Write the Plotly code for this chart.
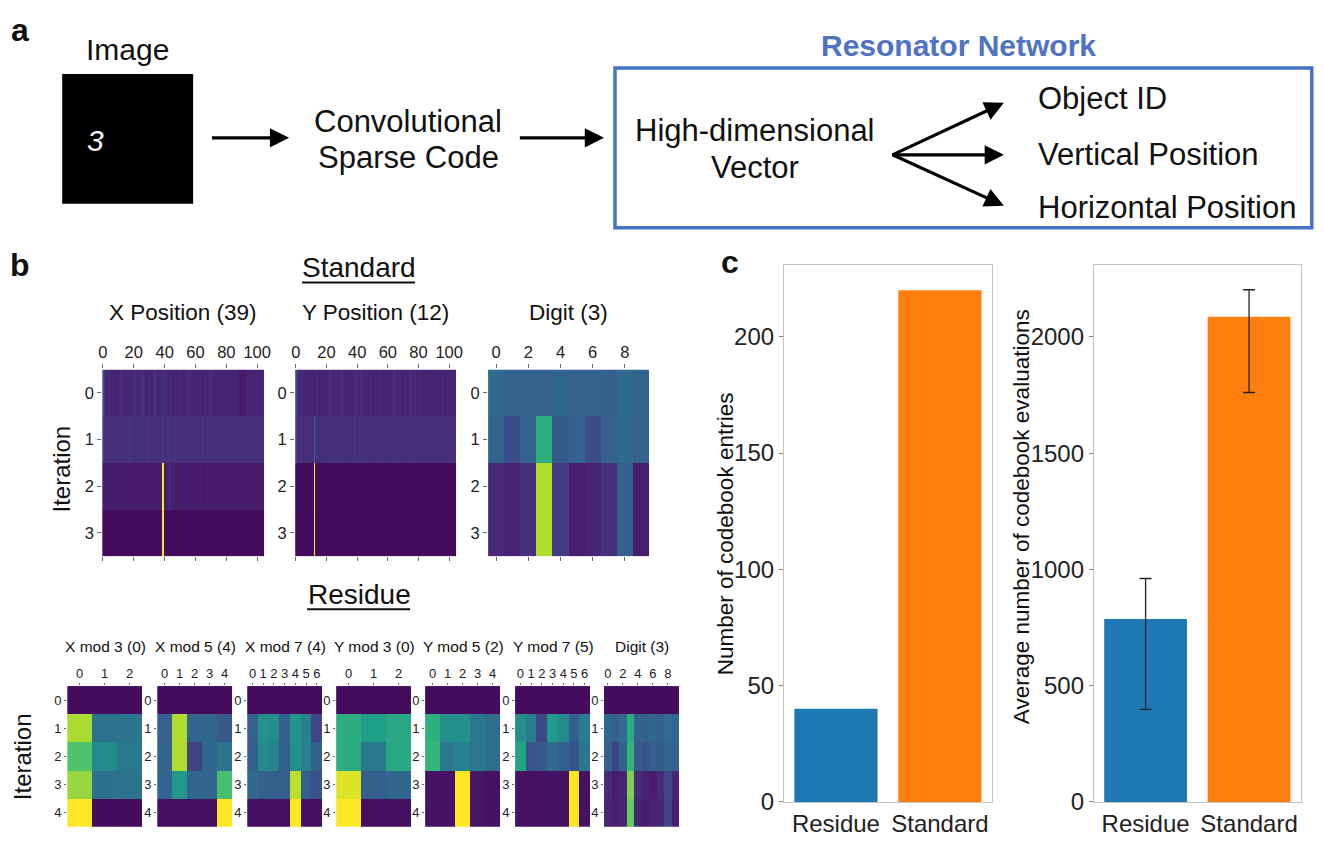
import plotly.graph_objects as go

W, H = 1324, 847
FONT = "Liberation Sans, Arial, Helvetica, sans-serif"
# small placement correction measured from earlier renders
SX, AX = 0.992, 4.8
SY, AY = 0.986, 0.0

# ---------------- data ----------------
std_titles = ["X Position (39)", "Y Position (12)", "Digit (3)"]

x_pos_row0 = [26, 15, 11, 10, 11, 10, 10, 11, 10, 10,
              11, 12, 14, 11, 10, 10, 12, 11, 10, 10,
              13, 11, 10, 10, 11, 10, 14, 11, 10, 10,
              11, 10, 10, 14, 15, 11, 10, 10, 14, 12,
              16, 11, 10, 10, 11, 10, 10, 11, 10, 10,
              11, 10, 10, 11, 10, 14, 13, 11, 10, 10,
              11, 10, 10, 11, 10, 10, 11, 10, 10, 12,
              13, 11, 10, 10, 11, 10, 10, 11, 10, 10,
              11, 10, 10, 11, 10, 10, 11, 10, 7, 7,
              7, 7, 7, 10, 11, 10, 10, 11, 10, 10,
              11, 10, 10, 10, 11]
x_pos_row1 = [20, 14, 13, 14, 14, 13, 14, 14, 13, 14,
              15, 14, 13, 14, 14, 13, 14, 16, 13, 14,
              14, 13, 14, 17, 13, 14, 14, 13, 14, 16,
              14, 13, 14, 14, 17, 13, 14, 14, 13, 17,
              14, 13, 16, 14, 13, 14, 14, 15, 13, 14,
              14, 13, 14, 14, 13, 14, 16, 13, 14, 14,
              13, 14, 14, 13, 14, 15, 13, 14, 14, 13,
              14, 14, 13, 14, 15, 13, 14, 14, 13, 14,
              16, 13, 14, 14, 13, 14, 14, 13, 14, 15,
              13, 14, 14, 13, 14, 14, 13, 14, 14, 13,
              14, 14, 13, 14, 14]
x_pos_row2 = [8, 7, 8, 7, 7, 8, 7, 8, 7, 7,
              8, 7, 7, 8, 7, 8, 7, 7, 8, 7,
              7, 8, 7, 7, 8, 7, 8, 7, 7, 8,
              7, 8, 7, 7, 8, 7, 7, 9, 8, 100,
              10, 8, 9, 12, 9, 8, 10, 7, 8, 7,
              7, 8, 7, 7, 8, 7, 8, 7, 7, 8,
              7, 8, 7, 9, 8, 7, 7, 8, 7, 7,
              8, 7, 7, 8, 7, 8, 7, 7, 8, 7,
              7, 8, 7, 7, 8, 7, 8, 7, 7, 8,
              7, 8, 7, 7, 8, 7, 8, 7, 7, 8,
              7, 8, 7, 7, 8]
x_pos_row3 = [3, 3, 4, 3, 3, 3, 4, 3, 3, 3,
              3, 4, 3, 3, 3, 3, 4, 3, 3, 3,
              3, 3, 4, 3, 3, 3, 3, 4, 3, 3,
              3, 3, 3, 4, 3, 3, 3, 3, 4, 100,
              3, 3, 3, 3, 4, 3, 3, 3, 3, 4,
              3, 3, 3, 3, 3, 4, 3, 3, 3, 3,
              4, 3, 3, 3, 3, 3, 4, 3, 3, 3,
              3, 4, 3, 3, 3, 3, 3, 4, 3, 3,
              3, 3, 4, 3, 3, 3, 3, 3, 4, 3,
              3, 3, 3, 4, 3, 3, 3, 3, 3, 4,
              3, 3, 3, 3, 3]

y_pos_row0 = [24, 14, 11, 10, 11, 10, 10, 11, 10, 10,
              11, 10, 10, 11, 14, 10, 10, 11, 10, 10,
              11, 10, 15, 11, 10, 10, 11, 10, 10, 11,
              14, 10, 10, 11, 10, 10, 11, 10, 10, 15,
              11, 10, 14, 11, 10, 10, 11, 10, 10, 11,
              10, 10, 11, 10, 13, 11, 10, 10, 11, 10,
              10, 11, 10, 10, 13, 11, 10, 10, 11, 10,
              10, 11, 10, 10, 11, 13, 10, 10, 11, 10,
              10, 11, 10, 10, 11, 10, 10, 11, 10, 10,
              11, 10, 10, 11, 10, 13, 11, 10, 10, 11,
              10, 10, 11, 10, 10]
y_pos_row1 = [18, 14, 13, 14, 14, 13, 14, 14, 13, 14,
              14, 13, 30, 14, 16, 13, 14, 14, 13, 14,
              14, 13, 17, 14, 13, 14, 14, 13, 14, 14,
              16, 13, 14, 14, 13, 14, 14, 13, 14, 17,
              13, 14, 16, 13, 14, 14, 13, 14, 14, 13,
              14, 14, 13, 14, 16, 13, 14, 14, 13, 14,
              14, 13, 14, 14, 15, 13, 14, 14, 13, 14,
              14, 13, 14, 14, 13, 15, 14, 13, 14, 14,
              13, 14, 14, 13, 14, 14, 13, 14, 14, 13,
              14, 14, 13, 14, 14, 15, 13, 14, 14, 13,
              14, 14, 13, 14, 14]
y_pos_row2 = [4, 3, 3, 4, 3, 3, 3, 4, 3, 3,
              3, 4, 100, 3, 3, 3, 4, 3, 3, 3,
              3, 4, 3, 3, 3, 3, 4, 3, 3, 3,
              3, 3, 4, 3, 3, 3, 3, 4, 3, 3,
              3, 3, 3, 4, 3, 3, 3, 3, 4, 3,
              3, 3, 3, 3, 4, 3, 3, 3, 3, 3,
              4, 3, 3, 3, 3, 3, 4, 3, 3, 3,
              3, 4, 3, 3, 3, 3, 3, 4, 3, 3,
              3, 3, 4, 3, 3, 3, 3, 3, 4, 3,
              3, 3, 3, 4, 3, 3, 3, 3, 3, 4,
              3, 3, 3, 3, 3]
y_pos_row3 = [3, 3, 3, 3, 4, 3, 3, 3, 3, 3,
              4, 3, 100, 3, 3, 3, 3, 4, 3, 3,
              3, 3, 3, 4, 3, 3, 3, 3, 3, 4,
              3, 3, 3, 3, 3, 4, 3, 3, 3, 3,
              3, 4, 3, 3, 3, 3, 3, 4, 3, 3,
              3, 3, 3, 4, 3, 3, 3, 3, 3, 4,
              3, 3, 3, 3, 3, 4, 3, 3, 3, 3,
              3, 4, 3, 3, 3, 3, 3, 4, 3, 3,
              3, 3, 3, 4, 3, 3, 3, 3, 3, 4,
              3, 3, 3, 3, 3, 4, 3, 3, 3, 3,
              3, 4, 3, 3, 3]

digit_std = [[34, 31, 32, 31, 33, 31, 32, 30, 34, 32],
             [32, 24, 31, 63, 29, 31, 24, 31, 34, 31],
             [12, 10, 14, 88, 18, 8, 10, 14, 30, 8],
             [12, 10, 14, 88, 18, 8, 10, 14, 30, 8]]

x_pos_std = [x_pos_row0, x_pos_row1, x_pos_row2, x_pos_row3]
y_pos_std = [y_pos_row0, y_pos_row1, y_pos_row2, y_pos_row3]
std_ticks = [[0, 20, 40, 60, 80, 100], [0, 20, 40, 60, 80, 100], [0, 2, 4, 6, 8]]

res_titles = ["X mod 3 (0)", "X mod 5 (4)", "X mod 7 (4)", "Y mod 3 (0)",
              "Y mod 5 (2)", "Y mod 7 (5)", "Digit (3)"]
x_mod3 = [[3, 3, 3], [87, 38, 39], [72, 48, 40], [84, 37, 38], [100, 3, 3]]
x_mod5 = [[3, 3, 3, 3, 3], [31, 88, 33, 33, 28], [32, 88, 20, 33, 38],
          [32, 53, 33, 33, 70], [4, 4, 4, 4, 100]]
x_mod7 = [[3, 3, 3, 3, 3, 3, 3], [31, 50, 49, 30, 52, 45, 22],
          [30, 48, 45, 30, 50, 45, 30], [34, 30, 30, 30, 90, 30, 25],
          [4, 4, 4, 4, 100, 4, 4]]
y_mod3 = [[3, 3, 3], [62, 56, 60], [62, 40, 60], [95, 30, 33], [100, 4, 4]]
y_mod5 = [[3, 3, 3, 3, 3], [63, 50, 50, 40, 35], [66, 40, 45, 40, 35],
          [5, 5, 100, 6, 5], [5, 5, 100, 6, 5]]
y_mod7 = [[3, 3, 3, 3, 3, 3, 3], [50, 42, 22, 54, 48, 30, 42],
          [58, 26, 28, 35, 30, 27, 40], [5, 5, 5, 5, 5, 100, 5],
          [5, 5, 5, 5, 5, 100, 5]]
digit_res = [[3, 3, 3, 3, 3, 3, 3, 3, 3, 3],
             [33, 30, 35, 62, 32, 30, 33, 30, 35, 33],
             [30, 20, 32, 66, 28, 25, 30, 28, 33, 30],
             [12, 8, 10, 80, 12, 10, 8, 12, 22, 10],
             [10, 8, 10, 76, 10, 8, 10, 10, 20, 8]]
res_data = [x_mod3, x_mod5, x_mod7, y_mod3, y_mod5, y_mod7, digit_res]
res_ticks = [[0, 1, 2], [0, 1, 2, 3, 4], [0, 1, 2, 3, 4, 5, 6], [0, 1, 2],
             [0, 1, 2, 3, 4], [0, 1, 2, 3, 4, 5, 6], [0, 2, 4, 6, 8]]

bar_categories = ["Residue", "Standard"]
bar_colors = ["#1f77b4", "#ff7f0e"]
codebook_entries = [40, 220]
avg_evals = [787, 2087]
evals_err_plus = [174, 116]
evals_err_minus = [389, 326]


# ---------------- helpers (reference pixel -> paper fraction) ----------------
def fx(p):
    return ((p - AX) / SX) / W


def fy(p):
    return 1 - ((p - AY) / SY) / H


fig = go.Figure()
layout = {}
annotations = []
shapes = []
n_ax = [0]


def add_text(text, x, y, size, color="#111", bold=False, xanchor="center", angle=0, italic=False):
    t = text
    if bold:
        t = "<b>" + t + "</b>"
    if italic:
        t = "<i>" + t + "</i>"
    annotations.append(dict(text=t, x=fx(x), y=fy(y), xref="paper", yref="paper",
                            showarrow=False, xanchor=xanchor, yanchor="middle",
                            textangle=angle, font=dict(size=size, color=color, family=FONT)))


def add_arrow(x0, y0, x1, y1):
    annotations.append(dict(text="", x=fx(x1), y=fy(y1), xref="paper", yref="paper",
                            ax=(x0 - x1) / SX, ay=(y0 - y1) / SY, axref="pixel", ayref="pixel",
                            showarrow=True, arrowhead=2, arrowsize=1.2, arrowwidth=3.2,
                            arrowcolor="#000"))


def add_heatmap(z, x0, x1, y0, y1, xr, tickvals, xfont, yfont, ticklen, mirror_x):
    n_ax[0] += 1
    s = "" if n_ax[0] == 1 else str(n_ax[0])
    fig.add_trace(go.Heatmap(z=z, x=list(range(len(z[0]))), y=list(range(len(z))),
                             colorscale="Viridis", zmin=0, zmax=100, showscale=False,
                             zsmooth=False, xaxis="x" + s, yaxis="y" + s, hoverinfo="skip"))
    layout["xaxis" + s] = dict(domain=[fx(x0), fx(x1)], anchor="y" + s, side="top", range=xr,
                               tickvals=tickvals, ticks="outside", ticklen=ticklen,
                               tickcolor="#666", tickwidth=1,
                               mirror="ticks" if mirror_x else False,
                               tickfont=dict(size=xfont, color="#222", family=FONT),
                               showgrid=False, zeroline=False, showline=False, fixedrange=True)
    layout["yaxis" + s] = dict(domain=[fy(y1), fy(y0)], anchor="x" + s,
                               range=[len(z) - 0.5, -0.5], tickvals=list(range(len(z))),
                               ticks="outside", ticklen=ticklen, tickcolor="#666", tickwidth=1,
                               tickfont=dict(size=yfont, color="#222", family=FONT),
                               showgrid=False, zeroline=False, showline=False, fixedrange=True)


# ---------------- panel a ----------------
add_text("a", 21, 30, 32, bold=True)
add_text("Image", 128, 50, 30)
shapes.append(dict(type="rect", xref="paper", yref="paper", x0=fx(63), x1=fx(194),
                   y0=fy(204), y1=fy(74), fillcolor="#000", line=dict(width=0)))
add_text("3", 96, 141, 30, color="#f4f4f4", italic=True)
add_arrow(212, 138, 290, 138)
add_text("Convolutional", 409, 122, 31)
add_text("Sparse Code", 409, 158, 31)
add_arrow(520, 138, 605, 138)
add_text("Resonator Network", 960, 46, 30, color="#4f72c4", bold=True)
shapes.append(dict(type="rect", xref="paper", yref="paper", x0=fx(616), x1=fx(1313),
                   y0=fy(228), y1=fy(68), line=dict(color="#4472c4", width=3.5)))
add_text("High-dimensional", 756, 131, 31)
add_text("Vector", 756, 168, 31)
add_arrow(893, 155, 1005, 103)
add_arrow(893, 155, 1005, 155)
add_arrow(893, 155, 1005, 206)
add_text("Object ID", 1037, 99, 31, xanchor="left")
add_text("Vertical Position", 1037, 155, 31, xanchor="left")
add_text("Horizontal Position", 1037, 208, 31, xanchor="left")

# ---------------- panel b ----------------
add_text("b", 21, 265, 32, bold=True)
add_text("Standard", 360, 268, 28)
shapes.append(dict(type="line", xref="paper", yref="paper", x0=fx(303), x1=fx(416),
                   y0=fy(283), y1=fy(283), line=dict(color="#111", width=2)))
add_text("Residue", 360, 595, 28)
shapes.append(dict(type="line", xref="paper", yref="paper", x0=fx(308), x1=fx(411),
                   y0=fy(610), y1=fy(610), line=dict(color="#111", width=2)))

std_boxes = [(103, 265), (296, 457), (489, 650)]
std_data = [x_pos_std, y_pos_std, digit_std]
for i in range(3):
    x0, x1 = std_boxes[i]
    ncol = len(std_data[i][0])
    add_heatmap(std_data[i], x0, x1, 370, 557, [-0.5, ncol - 0.5], std_ticks[i], 16.5, 16.5, 4, True)
    add_text(std_titles[i], (x0 + x1) / 2, 313, 22.5)
add_text("Iteration", 62, 470, 24, angle=-90)

res_lefts = [68, 158, 248, 337, 426, 516, 605]
for i in range(7):
    x0 = res_lefts[i]
    x1 = x0 + 75
    ncol = len(res_data[i][0])
    add_heatmap(res_data[i], x0, x1, 687, 828, [-0.5, ncol - 0.5], res_ticks[i], 13, 13, 2, False)
    add_text(res_titles[i], x0 + 38, 647, 15.5)
add_text("Iteration", 24, 758, 24, angle=-90)

# ---------------- panel c ----------------
add_text("c", 731, 262, 32, bold=True)

fig.add_trace(go.Bar(x=bar_categories, y=codebook_entries,
                     marker=dict(color=bar_colors, line=dict(width=0)),
                     width=0.8, xaxis="x11", yaxis="y11", hoverinfo="skip"))
fig.add_trace(go.Bar(x=bar_categories, y=avg_evals,
                     marker=dict(color=bar_colors, line=dict(width=0)),
                     width=0.8, xaxis="x12", yaxis="y12", hoverinfo="skip",
                     error_y=dict(type="data", symmetric=False, array=evals_err_plus,
                                  arrayminus=evals_err_minus, color="#222",
                                  thickness=1.3, width=6)))

bar_boxes = [(785, 993, [0, 231], [0, 50, 100, 150, 200]),
             (1095, 1302, [0, 2311], [0, 500, 1000, 1500, 2000])]
for k, (x0, x1, yr, tv) in enumerate(bar_boxes):
    s = str(11 + k)
    layout["xaxis" + s] = dict(domain=[fx(x0), fx(x1)], anchor="y" + s, range=[-0.5, 1.5],
                               showline=True, mirror=True, linecolor="#c4c4c4", linewidth=1,
                               ticks="", showgrid=False, zeroline=False, fixedrange=True,
                               tickfont=dict(size=24, color="#222", family=FONT))
    layout["yaxis" + s] = dict(domain=[fy(803), fy(265)], anchor="x" + s, range=yr,
                               tickvals=tv, showline=True, mirror=True, linecolor="#c4c4c4",
                               linewidth=1, ticks="outside", ticklen=4, tickcolor="#888",
                               showgrid=False, zeroline=False, fixedrange=True,
                               tickfont=dict(size=24, color="#222", family=FONT))
add_text("Number of codebook entries", 726, 534, 22.5, angle=-90)
add_text("Average number of codebook evaluations", 1022, 517, 22.5, angle=-90)

layout.update(dict(width=W, height=H, margin=dict(l=0, r=0, t=0, b=0),
                   paper_bgcolor="#fff", plot_bgcolor="#fff", showlegend=False,
                   font=dict(family=FONT, color="#111"),
                   annotations=annotations, shapes=shapes))
fig.update_layout(**layout)
fig.write_html("out.html", config={"displayModeBar": False, "staticPlot": True},
               post_script="document.body.style.margin='0px';document.body.style.overflow='hidden';")
